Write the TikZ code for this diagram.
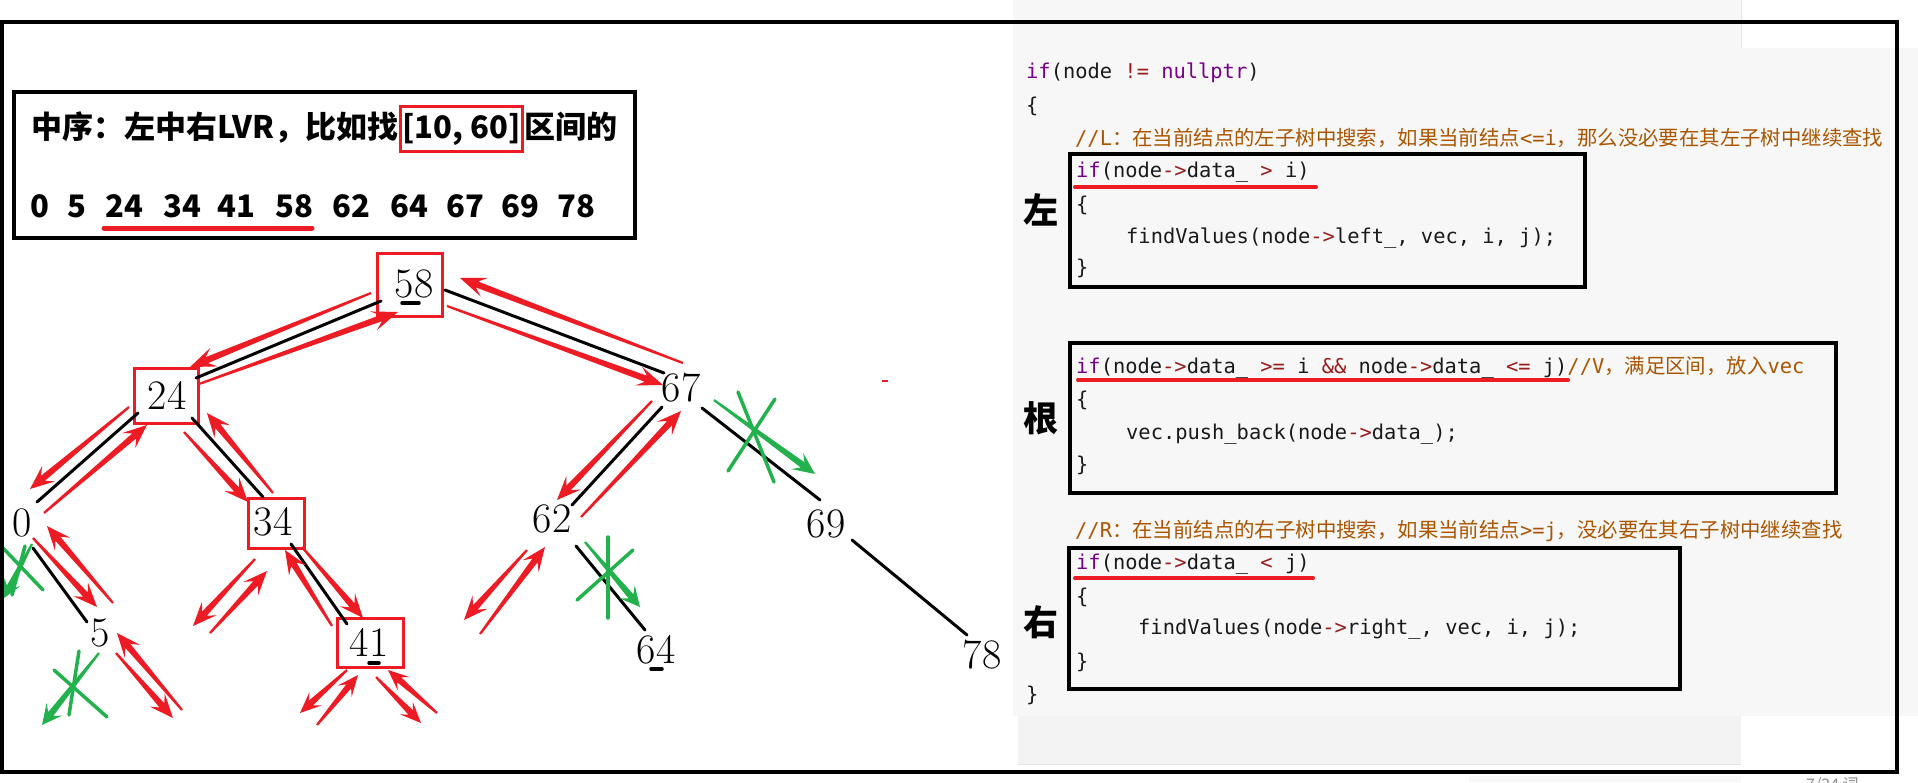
\documentclass[tikz,border=0pt]{standalone}
\usepackage{fontspec}
\usetikzlibrary{calc}
\newfontfamily\cjk{Noto Sans CJK SC}
\newfontfamily\codefont{DejaVu Sans Mono}
\definecolor{myred}{HTML}{ED1C24}
\definecolor{mygreen}{HTML}{22B14C}
\definecolor{kwc}{HTML}{770088}
\definecolor{opc}{HTML}{981A1A}
\definecolor{cmc}{HTML}{AA5500}
\definecolor{codetxt}{HTML}{1A1A1A}
\definecolor{panel}{HTML}{F7F7F7}
\definecolor{panelb}{HTML}{F3F3F3}
\definecolor{panelline}{HTML}{E4E4E4}
\newcommand\kw[1]{\textcolor{kwc}{#1}}
\newcommand\opr[1]{\textcolor{opc}{#1}}
\newcommand\cmt[1]{\textcolor{cmc}{#1}}
% hand drawn tapered arrow: name, start, tip, colour, head length, head half width
\newcommand\handarrow[6]{%
  \coordinate (#1s) at (#2);
  \coordinate (#1t) at (#3);
  \pgfmathsetmacro\hajd{0.7*#5}%
  \coordinate (#1h) at ($(#1t)!#5pt!(#1s)$);
  \coordinate (#1j) at ($(#1t)!\hajd pt!(#1s)$);
  \fill[#4] ($(#1s)!1.1pt!90:(#1t)$) -- ($(#1j)!3.2pt!90:(#1t)$) -- ($(#1h)!#6pt!90:(#1t)$) -- (#1t)
     -- ($(#1h)!#6pt!-90:(#1t)$) -- ($(#1j)!3.2pt!-90:(#1t)$) -- ($(#1s)!1.1pt!-90:(#1t)$) -- cycle;
}
\begin{document}
\begin{tikzpicture}[x=1pt,y=-1pt,
  tnum/.style={inner sep=0, font=\fontsize{42}{50}\selectfont},
  rbox/.style={draw=myred, line width=3, inner sep=0},
  edge/.style={line width=3, line cap=round},
  gx/.style={draw=mygreen, line width=3.5, line cap=round},
  tick/.style={line width=3.5, line cap=round},
  code/.style={anchor=base west, inner sep=0, font=\fontsize{20.4}{24}\codefont, text=codetxt},
  cbox/.style={draw, line width=4, inner sep=0},
  uline/.style={draw=myred, line width=4, line cap=round},
  side/.style={inner sep=0, font=\fontsize{35}{40}\cjk\bfseries},
  lvr/.style={inner sep=0, font=\fontsize{31}{36}\cjk\bfseries},
]
\useasboundingbox (0,0) rectangle (1918,782);
\fill[white] (0,0) rectangle (1918,782);
% ---------- code panel background ----------
\fill[panel] (1013,0) rectangle (1741,688);
\fill[panel] (1013,48) rectangle (1918,716);
\fill[panelb] (1018,688) rectangle (1741,764);
\fill[panel] (1018,688) rectangle (1741,716);
\draw[panelline, line width=1] (1018,764) -- (1741,764) (1741,0) -- (1741,48);
\fill[panel] (1469,776) rectangle (1741,782);
\node[anchor=north west, inner sep=0, text=black!45, font=\fontsize{16}{18}\cjk] (wc) at (1806,777) {7/24 词};

% ---------- left summary box ----------
\node[draw, line width=4, minimum width=621, minimum height=146, inner sep=0] (lbox) at (324.5,165) {};
\node[lvr, anchor=base west] (t1a) at (31,138) {中序：左中右LVR，比如找};
\node[lvr, anchor=base west, draw=myred, line width=3, inner xsep=2, minimum height=45] (t1b) at (t1a.base east) {[10, 60]};
\node[lvr, anchor=base west] (t1c) at (t1b.base east) {区间的};
\foreach \v/\xx in {0/40,5/77,24/124,34/182,41/236,58/294,62/351,64/409,67/465,69/520,78/576}
  \node[lvr, anchor=base] (s\v) at (\xx,217) {\v};
\draw[uline, line width=5] (104,228) coordinate (ula) -- (312,228) coordinate (ulb);

% ---------- tree ----------
\node[rbox, minimum width=65, minimum height=63] (b58) at (409.5,284.5) {};
\node[rbox, minimum width=64, minimum height=55] (b24) at (166,395.5) {};
\node[rbox, minimum width=56, minimum height=50] (b34) at (276,523) {};
\node[rbox, minimum width=66, minimum height=49] (b41) at (370,642.5) {};

\node[tnum] (n58) at (414,283.5) {58};
\node[tnum] (n24) at (167,395) {24};
\node[tnum] (n0) at (22,523) {0};
\node[tnum] (n34) at (273,522) {34};
\node[tnum] (n5) at (100,633) {5};
\node[tnum] (n41) at (369,642) {41};
\node[tnum] (n67) at (681,388) {67};
\node[tnum] (n62) at (552,519) {62};
\node[tnum] (n69) at (826,524) {69};
\node[tnum] (n64) at (656,650) {64};
\node[tnum] (n78) at (982,655) {78};

\draw[tick] (402,303) coordinate (k58a) -- (419,303) coordinate (k58b);
\draw[tick] (369,663) coordinate (k41a) -- (379,663) coordinate (k41b);
\draw[tick] (651,669) coordinate (k64a) -- (662,669) coordinate (k64b);

% edge end points
\coordinate (e58l) at (381,301);  \coordinate (e24r) at (196,378);
\coordinate (e58r) at (445,290);  \coordinate (e67l) at (664,373);
\coordinate (e24l) at (138,413);  \coordinate (e0t) at (37,502);
\coordinate (e24b) at (192,418);  \coordinate (e34t) at (263,497);
\coordinate (e0b) at (33,548);    \coordinate (e5t) at (87,622);
\coordinate (e34b) at (291,544);  \coordinate (e41t) at (347,624);
\coordinate (e67b) at (662,407);  \coordinate (e62t) at (572,505);
\coordinate (e67r) at (702,408);  \coordinate (e69t) at (820,500);
\coordinate (e62b) at (576,546);  \coordinate (e64t) at (645,630);
\coordinate (e69b) at (852,540);  \coordinate (e78t) at (967,635);
\draw[edge] (e58l) -- (e24r);
\draw[edge] (e58r) -- (e67l);
\draw[edge] (e24l) -- (e0t);
\draw[edge] (e24b) -- (e34t);
\draw[edge] (e0b) -- (e5t);
\draw[edge] (e34b) -- (e41t);
\draw[edge] (e67b) -- (e62t);
\draw[edge] (e67r) -- (e69t);
\draw[edge] (e62b) -- (e64t);
\draw[edge] (e69b) -- (e78t);

% red traversal arrows
\handarrow{ra1}{371,293}{190,367}{myred}{26}{10}
\handarrow{ra2}{199,384}{398,312}{myred}{26}{10}
\handarrow{ra3}{129,407}{30,489}{myred}{24}{10}
\handarrow{ra4}{44,513}{147,425}{myred}{24}{10}
\handarrow{ra5}{184,432}{248,502}{myred}{24}{10}
\handarrow{ra6}{273,493}{207,413}{myred}{24}{10}
\handarrow{ra7}{33,538}{97,607}{myred}{24}{10}
\handarrow{ra8}{113,603}{47,526}{myred}{24}{10}
\handarrow{ra9}{255,559}{193,626}{myred}{24}{10}
\handarrow{ra10}{210,633}{267,571}{myred}{24}{10}
\handarrow{ra11}{302,547}{363,618}{myred}{24}{10}
\handarrow{ra12}{332,626}{285,550}{myred}{24}{10}
\handarrow{ra13}{116,653}{173,718}{myred}{24}{10}
\handarrow{ra14}{182,710}{117,633}{myred}{24}{10}
\handarrow{ra15}{347,670}{300,713}{myred}{21}{9}
\handarrow{ra16}{317,725}{358,675}{myred}{21}{9}
\handarrow{ra17}{376,677}{421,723}{myred}{21}{9}
\handarrow{ra18}{437,713}{388,670}{myred}{21}{9}
\handarrow{ra19}{447,306}{663,385}{myred}{26}{10}
\handarrow{ra20}{683,363}{460,278}{myred}{26}{10}
\handarrow{ra21}{652,401}{557,500}{myred}{24}{10}
\handarrow{ra22}{581,517}{681,411}{myred}{24}{10}
\handarrow{ra23}{527,550}{464,620}{myred}{24}{10}
\handarrow{ra24}{480,634}{545,547}{myred}{24}{10}
\draw[myred, line width=2] (882,381) coordinate (rdot1) -- (888,381) coordinate (rdot2);

% green pruned branches
\handarrow{ga1}{32,544}{4,598}{mygreen}{18}{9}
\draw[gx] (25,546) coordinate (gx1a) -- (12,595) coordinate (gx1b);
\draw[gx] (3,548) coordinate (gx2a) -- (43,590) coordinate (gx2b);
\handarrow{ga2}{99,653}{42,725}{mygreen}{20}{10}
\draw[gx] (79,651) coordinate (gx3a) -- (69,715) coordinate (gx3b);
\draw[gx] (54,670) coordinate (gx4a) -- (107,717) coordinate (gx4b);
\handarrow{ga3}{585,542}{640,607}{mygreen}{20}{10}
\draw[gx] (608,537) coordinate (gx5a) -- (608,618) coordinate (gx5b);
\draw[gx] (577,600) coordinate (gx6a) -- (633,550) coordinate (gx6b);
\handarrow{ga4}{714,400}{815,474}{mygreen}{22}{10}
\draw[gx] (738,392) coordinate (gx7a) -- (774,482) coordinate (gx7b);
\draw[gx] (728,471) coordinate (gx8a) -- (775,399) coordinate (gx8b);

% ---------- code ----------
\node[code] (c0) at (1026,78) {\kw{if}(node \opr{!=} \kw{nullptr})};
\node[code] (c1) at (1026,112) {\{};
\node[code, text=cmc] (cL) at (1075,145) {//L{\cjk：在当前结点的左子树中搜索，如果当前结点}<=i{\cjk，那么没必要在其左子树中继续查找}};

\node[cbox, minimum width=515, minimum height=133] (cb1) at (1327.5,220.5) {};
\node[code] (c2) at (1076,177) {\kw{if}(node\opr{->}data\_ \opr{>} i)};
\node[code] (c3) at (1076,211) {\{};
\node[code] (c4) at (1126,243) {findValues(node\opr{->}left\_, vec, i, j);};
\node[code] (c5) at (1076,274) {\}};
\draw[uline] (1075,187) coordinate (u1a) -- (1316,187) coordinate (u1b);
\node[side] (sL) at (1041,210) {左};

\node[cbox, minimum width=766, minimum height=150] (cb2) at (1453,418) {};
\node[code] (c6) at (1076,373) {\kw{if}(node\opr{->}data\_ \opr{>=} i \opr{\&\&} node\opr{->}data\_ \opr{<=} j)\cmt{//V{\cjk，满足区间，放入}vec}};
\node[code] (c7) at (1076,406) {\{};
\node[code] (c8) at (1126,439) {vec.push\_back(node\opr{->}data\_);};
\node[code] (c9) at (1076,471) {\}};
\draw[uline] (1078,380) coordinate (u2a) -- (1568,380) coordinate (u2b);
\node[side] (sV) at (1041,418) {根};

\node[code, text=cmc] (cR) at (1075,537) {//R{\cjk：在当前结点的右子树中搜索，如果当前结点}>=j{\cjk，没必要在其右子树中继续查找}};

\node[cbox, minimum width=611, minimum height=141] (cb3) at (1374.5,618.5) {};
\node[code] (c10) at (1076,569) {\kw{if}(node\opr{->}data\_ \opr{<} j)};
\node[code] (c11) at (1076,603) {\{};
\node[code] (c12) at (1138,634) {findValues(node\opr{->}right\_, vec, i, j);};
\node[code] (c13) at (1076,668) {\}};
\draw[uline] (1075,578) coordinate (u3a) -- (1313,578) coordinate (u3b);
\node[side] (sR) at (1041,622) {右};

\node[code] (c14) at (1026,701) {\}};

% ---------- outer frame ----------
\draw[line width=4.5] (2,22) rectangle (1897,772);
\end{tikzpicture}
\end{document}
